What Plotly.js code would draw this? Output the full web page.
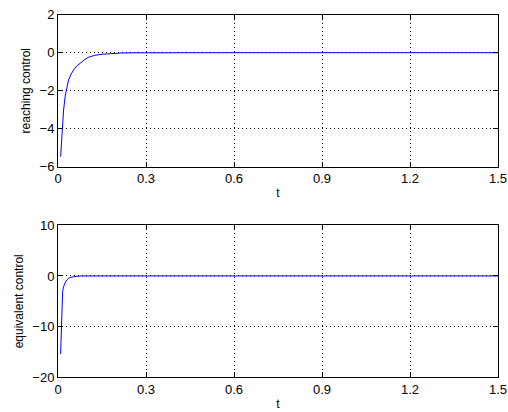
<!DOCTYPE html>
<html>
<head>
<meta charset="utf-8">
<script src="https://cdn.plot.ly/plotly-3.0.1.min.js"></script>
<style>html,body{margin:0;padding:0;background:#fff;}#chart{width:508px;height:412px;}</style>
</head>
<body>
<div id="chart"></div>
<script>
// Reaching control (top panel)
const tReach = [0.009, 0.011, 0.0136, 0.016, 0.019, 0.025, 0.030, 0.036, 0.044, 0.053, 0.064, 0.076, 0.090, 0.104, 0.125, 0.15, 0.18, 0.218, 0.26, 0.3, 0.6, 0.9, 1.2, 1.5];
const reachVals = [-5.47, -4.95, -4.42, -3.65, -3.02, -2.23, -1.8, -1.44, -1.15, -0.91, -0.7, -0.53, -0.37, -0.24, -0.14, -0.08, -0.04, -0.015, -0.005, 0, 0, 0, 0, 0];
// Equivalent control (bottom panel)
const tEquiv = [0.009, 0.012, 0.0157, 0.019, 0.022, 0.025, 0.030, 0.036, 0.044, 0.053, 0.065, 0.08, 0.1, 0.3, 0.6, 0.9, 1.2, 1.5];
const equivVals = [-15.4, -9.0, -3.1, -2.1, -1.6, -1.25, -0.8, -0.46, -0.25, -0.13, -0.05, -0.01, 0, 0, 0, 0, 0, 0];
// Tick labels
const xTicks = [0, 0.3, 0.6, 0.9, 1.2, 1.5];
const xTickText = ["0", "0.3", "0.6", "0.9", "1.2", "1.5"];
const yTopTicks = [-6, -4, -2, 0, 2];
const yBotTicks = [-20, -10, 0, 10];

const font = {family: "Liberation Sans, Arial, sans-serif", size: 13, color: "#000"};
function xAxis(anchor) {
  return {
    domain: [0, 1], anchor: anchor, range: [0, 1.5],
    tickvals: xTicks, ticktext: xTickText,
    showline: true, linecolor: "#000", linewidth: 1, mirror: "ticks",
    ticks: "inside", ticklen: 5, tickcolor: "#000",
    showgrid: true, gridcolor: "#000", gridwidth: 1, griddash: "1px,3px",
    zeroline: false, tickfont: font,
    title: {text: "t", font: {family: font.family, size: 12, color: "#000"}, standoff: 3}
  };
}
function yAxis(anchor, domain, range, ticks, title) {
  return {
    domain: domain, anchor: anchor, range: range, tickvals: ticks,
    showline: true, linecolor: "#000", linewidth: 1, mirror: "ticks",
    ticks: "inside", ticklen: 5, tickcolor: "#000",
    showgrid: true, gridcolor: "#000", gridwidth: 1, griddash: "1px,3px",
    zeroline: false, tickfont: font,
    title: {text: title, font: {family: font.family, size: 12, color: "#000"}, standoff: 6}
  };
}

const data = [
  {x: tReach, y: reachVals, xaxis: "x", yaxis: "y", type: "scatter", mode: "lines",
   line: {color: "#0000ff", width: 1}, hoverinfo: "skip"},
  {x: tEquiv, y: equivVals, xaxis: "x2", yaxis: "y2", type: "scatter", mode: "lines",
   line: {color: "#0000ff", width: 1}, hoverinfo: "skip"}
];
const layout = {
  width: 508, height: 412,
  margin: {l: 58, r: 10, t: 0, b: 0, pad: 0},
  paper_bgcolor: "#fff", plot_bgcolor: "#fff",
  showlegend: false, font: font,
  xaxis: xAxis("y"),
  yaxis: yAxis("x", [0.5954, 0.9643], [-6, 2], yTopTicks, "reaching control"),
  xaxis2: xAxis("y2"),
  yaxis2: yAxis("x2", [0.0842, 0.4532], [-20, 10], yBotTicks, "equivalent control")
};
Plotly.newPlot("chart", data, layout, {staticPlot: true, displayModeBar: false});
</script>
</body>
</html>
